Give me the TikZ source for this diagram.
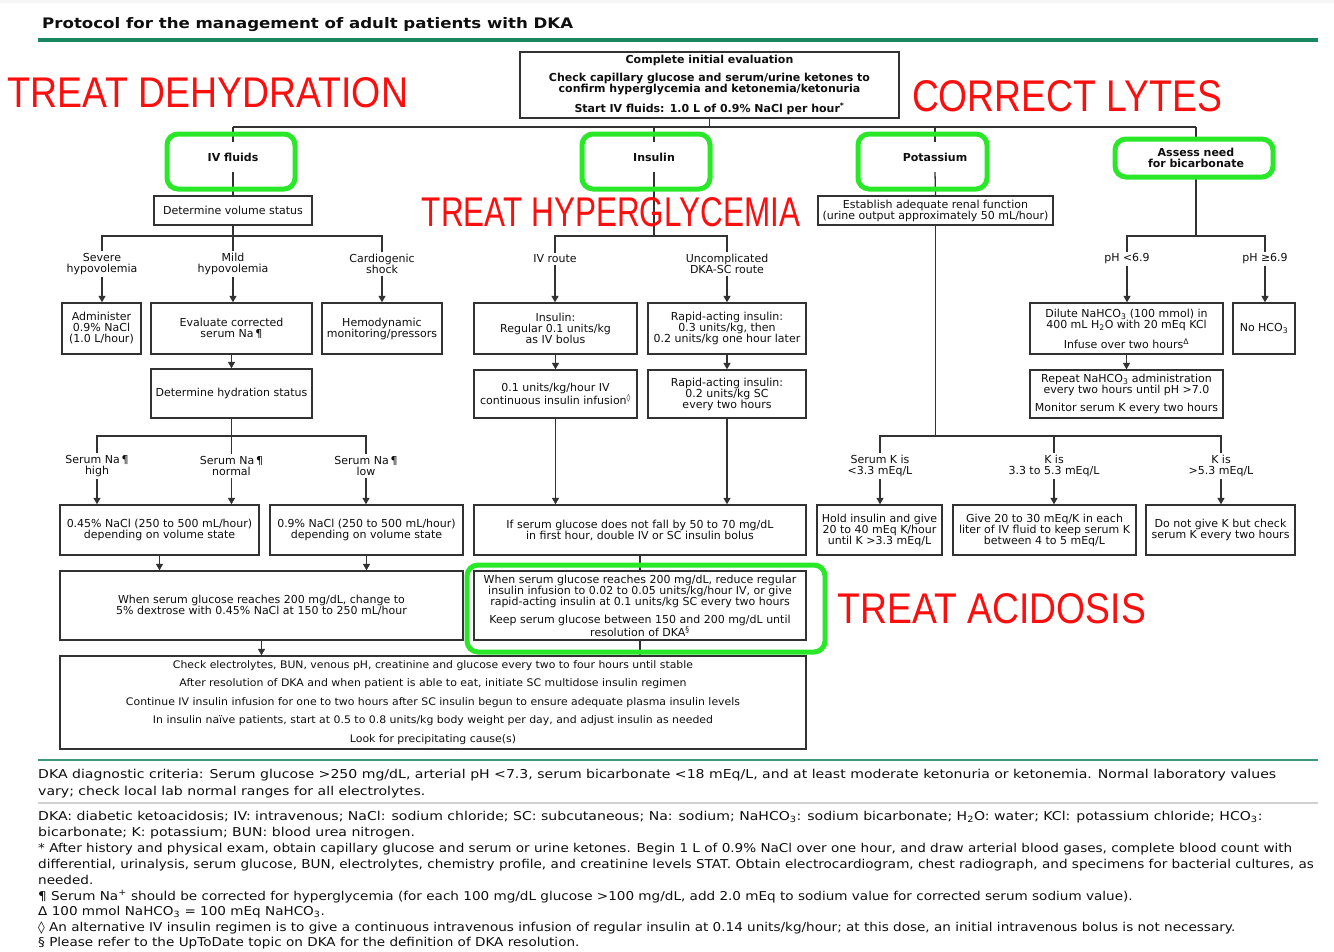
\documentclass[tikz,border=0pt]{standalone}
\usepackage{fontspec}
\usepackage{graphicx}
\setmainfont{DejaVu Sans}
\newfontfamily\arialf{Liberation Sans}
\usetikzlibrary{arrows.meta}
\definecolor{hlg}{RGB}{40,232,40}
\definecolor{rulec}{RGB}{25,135,95}
\definecolor{lc}{RGB}{50,50,50}
\definecolor{txt}{RGB}{15,15,15}
\definecolor{redt}{RGB}{250,15,15}
\newcommand{\bxf}{\fontsize{11}{11}\selectfont}
\newcommand{\fnfont}{\fontsize{12.2}{12.2}\selectfont}
\newlength{\fnw}
\newcommand{\mkbox}[7][]{\node[bx,#1,minimum width={#5-#3},minimum height={#6-#4}] (#2) at ({(#3+#5)/2},{(#4+#6)/2}) {#7};}
\newcommand{\fitw}[2]{\resizebox{#1pt}{\height}{#2}}
\newcommand{\ftA}{DKA diagnostic criteria: Serum glucose >250 mg/dL, arterial pH <7.3, serum bicarbonate <18 mEq/L, and at least moderate ketonuria or ketonemia. Normal laboratory values}
\newcommand{\ftE}{* After history and physical exam, obtain capillary glucose and serum or urine ketones. Begin 1 L of 0.9\% NaCl over one hour, and draw arterial blood gases, complete blood count with}
\begin{document}
\settowidth{\fnw}{\fnfont\ftA}\pgfmathsetmacro{\fsA}{1238/\fnw}%
\settowidth{\fnw}{\fnfont\ftE}\pgfmathsetmacro{\fsB}{1254/\fnw}%
\begin{tikzpicture}[x=1pt,y=-1pt,
  bx/.style={draw=lc, line width=1.3pt, align=center, inner sep=1pt, text=txt, font=\bxf},
  bxb/.style={font=\bfseries\bxf},
  lab/.style={align=center, inner sep=2pt, text=txt, font=\bxf},
  cat/.style={align=center, inner sep=0pt, text=txt, font=\bfseries\bxf},
  ln/.style={draw=lc, line width=1.3pt},
  arr/.style={ln, -{Triangle[width=7pt,length=6.5pt]}},
  hl/.style={draw=hlg, line width=5pt, rounded corners=11pt, inner sep=0pt},
  redl/.style={text=redt, inner sep=0pt},
  foot/.style={anchor=base west, inner sep=0pt, text=txt, font=\fnfont}]
\useasboundingbox (0,0) rectangle (1334,951);
\fill[white] (0,0) rectangle (1334,951);
\fill[green!5!gray!8] (0,0) rectangle (1334,3);

% title
\node[anchor=base west, inner sep=0pt, text=txt, font=\bfseries\fontsize{14.5}{14.5}\selectfont] (title) at (42,28) {\fitw{531}{Protocol for the management of adult patients with DKA}};
\draw[rulec, line width=4pt] (38,40) -- (1318,40);

% top box
\mkbox[bxb]{top}{520}{52}{899}{118}{Complete initial evaluation\\[7pt]Check capillary glucose and serum/urine ketones to\\confirm hyperglycemia and ketonemia/ketonuria\\[7pt]Start IV fluids: 1.0 L of 0.9\% NaCl per hour\textsuperscript{*}}

% categories
\node[cat, minimum height=30] (ivf) at (233,157) {IV fluids};
\node[cat, minimum height=30] (ins) at (654,157) {Insulin};
\node[cat, minimum height=30] (pot) at (935,157) {Potassium};
\node[cat, minimum height=38] (bic) at (1196,158) {Assess need\\for bicarbonate};

% IV fluids branch
\mkbox{vol}{154}{196}{312}{225}{Determine volume status}
\node[lab] (lsev) at (102,264) {Severe\\hypovolemia};
\node[lab] (lmild) at (233,264) {Mild\\hypovolemia};
\node[lab] (lcard) at (382,264) {Cardiogenic\\shock};
\mkbox{adm}{62}{303}{141}{354}{Administer\\0.9\% NaCl\\(1.0 L/hour)}
\mkbox{evna}{151}{303}{312}{354}{Evaluate corrected\\serum Na\,¶}
\mkbox{hemo}{322}{303}{442}{354}{Hemodynamic\\monitoring/pressors}
\mkbox{hyd}{151}{369}{312}{418}{Determine hydration status}
\node[lab] (lhi) at (97,466) {Serum Na\,¶\\high};
\node[lab] (lno) at (231.5,466) {Serum Na\,¶\\normal};
\node[lab] (llo) at (366,466) {Serum Na\,¶\\low};
\mkbox{half}{60}{505}{259}{555}{0.45\% NaCl (250 to 500 mL/hour)\\depending on volume state}
\mkbox{nine}{270}{505}{463}{555}{0.9\% NaCl (250 to 500 mL/hour)\\depending on volume state}
\mkbox{dext}{60}{571}{463}{640}{When serum glucose reaches 200 mg/dL, change to\\5\% dextrose with 0.45\% NaCl at 150 to 250 mL/hour}

% insulin branch
\node[lab] (liv) at (555,259) {IV route};
\node[lab] (lsc) at (727,264) {Uncomplicated\\DKA-SC route};
\mkbox{bolus}{474}{303}{637}{354}{Insulin:\\Regular 0.1 units/kg\\as IV bolus}
\mkbox{rapida}{648}{303}{806}{354}{Rapid-acting insulin:\\0.3 units/kg, then\\0.2 units/kg one hour later}
\mkbox{ivinf}{474}{370}{637}{418}{0.1 units/kg/hour IV\\continuous insulin infusion\textsuperscript{◊}}
\mkbox{rapidb}{648}{370}{806}{418}{Rapid-acting insulin:\\0.2 units/kg SC\\every two hours}
\mkbox{dbl}{474}{505}{806}{555}{If serum glucose does not fall by 50 to 70 mg/dL\\in first hour, double IV or SC insulin bolus}
\mkbox{reduce}{474}{571}{806}{640}{When serum glucose reaches 200 mg/dL, reduce regular\\insulin infusion to 0.02 to 0.05 units/kg/hour IV, or give\\rapid-acting insulin at 0.1 units/kg SC every two hours\\[7pt]Keep serum glucose between 150 and 200 mg/dL until\\resolution of DKA\textsuperscript{§}}

% potassium branch
\mkbox{renal}{818}{196}{1053}{225}{Establish adequate renal function\\(urine output approximately 50 mL/hour)}
\node[lab] (lka) at (880,466) {Serum K is\\<3.3 mEq/L};
\node[lab] (lkb) at (1054,466) {K is\\3.3 to 5.3 mEq/L};
\node[lab] (lkc) at (1221,466) {K is\\>5.3 mEq/L};
\mkbox{hold}{817}{505}{942}{555}{Hold insulin and give\\20 to 40 mEq K/hour\\until K >3.3 mEq/L}
\mkbox{give}{953}{505}{1136}{555}{Give 20 to 30 mEq/K in each\\liter of IV fluid to keep serum K\\between 4 to 5 mEq/L}
\mkbox{nok}{1146}{505}{1295}{555}{Do not give K but check\\serum K every two hours}

% bicarbonate branch
\node[lab] (lpa) at (1127,259) {pH <6.9};
\node[lab] (lpb) at (1265,259) {pH ≥6.9};
\mkbox{dil}{1030}{303}{1223}{354}{Dilute NaHCO\textsubscript{3} (100 mmol) in\\400 mL H\textsubscript{2}O with 20 mEq KCl\\[7pt]Infuse over two hours\textsuperscript{Δ}}
\mkbox{nohco}{1233}{303}{1295}{354}{No HCO\textsubscript{3}}
\mkbox{rep}{1030}{370}{1223}{418}{Repeat NaHCO\textsubscript{3} administration\\every two hours until pH >7.0\\[7pt]Monitor serum K every two hours}

% bottom box
\mkbox[font=\fontsize{10.4}{11}\selectfont]{bot}{60}{656}{806}{749}{%
\fitw{520}{Check electrolytes, BUN, venous pH, creatinine and glucose every two to four hours until stable}\\[7.5pt]
\fitw{507}{After resolution of DKA and when patient is able to eat, initiate SC multidose insulin regimen}\\[7.5pt]
\fitw{614}{Continue IV insulin infusion for one to two hours after SC insulin begun to ensure adequate plasma insulin levels}\\[7.5pt]
\fitw{560}{In insulin naïve patients, start at 0.5 to 0.8 units/kg body weight per day, and adjust insulin as needed}\\[7.5pt]
\fitw{166}{Look for precipitating cause(s)}}

% connectors: trunk
\coordinate (tL) at (233,127);
\coordinate (tR) at (1196,127);
\draw[ln] (top.south) -- (top.south |- tL);
\draw[ln] (tL) -- (tR);
\draw[ln] (tL) -- (ivf.north);
\draw[ln] (ins.north |- tL) -- (ins.north);
\draw[ln] (pot.north |- tL) -- (pot.north);
\draw[ln] (tR) -- (bic.north);

% IV fluids connectors
\draw[ln] (ivf.south) -- (vol.north);
\coordinate (jv) at (233,236);
\draw[ln] (vol.south) -- (jv);
\draw[ln] (lsev.north) |- (jv) -| (lcard.north);
\draw[ln] (jv) -- (lmild.north);
\draw[arr] (lsev.south) -- (lsev.south |- adm.north);
\draw[arr] (lmild.south) -- (lmild.south |- evna.north);
\draw[arr] (lcard.south) -- (lcard.south |- hemo.north);
\draw[arr] (evna.south) -- (evna.south |- hyd.north);
\coordinate (jh) at (231.5,436);
\draw[ln] (hyd.south) -- (jh);
\draw[ln] (lhi.north) |- (jh) -| (llo.north);
\draw[ln] (jh) -- (lno.north);
\draw[arr] (lhi.south) -- (lhi.south |- half.north);
\draw[arr] (lno.south) -- (lno.south |- half.north);
\draw[arr] (llo.south) -- (llo.south |- nine.north);
\draw[arr] (half.south) -- (half.south |- dext.north);
\draw[arr] (nine.south) -- (nine.south |- dext.north);
\draw[arr] (dext.south) -- (dext.south |- bot.north);

% insulin connectors
\coordinate (ji) at (654,236);
\draw[ln] (ins.south) -- (ji);
\draw[ln] (liv.north) |- (ji) -| (lsc.north);
\draw[arr] (liv.south) -- (liv.south |- bolus.north);
\draw[arr] (lsc.south) -- (lsc.south |- rapida.north);
\draw[arr] (bolus.south) -- (bolus.south |- ivinf.north);
\draw[arr] (rapida.south) -- (rapida.south |- rapidb.north);
\draw[arr] (ivinf.south) -- (ivinf.south |- dbl.north);
\draw[arr] (rapidb.south) -- (rapidb.south |- dbl.north);
\draw[ln] (dbl.south) -- (reduce.north);
\draw[ln] (reduce.south) -- (reduce.south |- bot.north);

% potassium connectors
\draw[ln] (pot.south) -- (renal.north);
\coordinate (jk) at (935.5,436);
\draw[ln] (renal.south) -- (jk);
\draw[ln] (lka.north) |- (jk) -| (lkc.north);
\draw[ln] (lkb.north |- jk) -- (lkb.north);
\draw[arr] (lka.south) -- (lka.south |- hold.north);
\draw[arr] (lkb.south) -- (lkb.south |- give.north);
\draw[arr] (lkc.south) -- (lkc.south |- nok.north);

% bicarbonate connectors
\coordinate (jb) at (1196,236);
\draw[ln] (bic.south) -- (jb);
\draw[ln] (lpa.north) |- (jb) -| (lpb.north);
\draw[arr] (lpa.south) -- (lpa.south |- dil.north);
\draw[arr] (lpb.south) -- (lpb.south |- nohco.north);
\draw[arr] (dil.south) -- (dil.south |- rep.north);

% green highlights
\node[hl, minimum width=128, minimum height=55] (hivf) at (231,161.5) {};
\node[hl, minimum width=128, minimum height=55] (hins) at (646,161.5) {};
\node[hl, minimum width=129, minimum height=55] (hpot) at (922.5,161.5) {};
\node[hl, minimum width=158, minimum height=38] (hbic) at (1194,158) {};
\node[hl, minimum width=358, minimum height=87] (hred) at (646,608.5) {};

% red labels
\node[redl] (tdh) at (208,93) {\resizebox{400pt}{30pt}{\arialf TREAT DEHYDRATION}};
\node[redl] (tly) at (1067,96) {\resizebox{310pt}{31pt}{\arialf CORRECT LYTES}};
\node[redl] (thy) at (611,212) {\resizebox{378pt}{29pt}{\arialf TREAT HYPERGLYCEMIA}};
\node[redl] (tac) at (992,609) {\resizebox{308pt}{30pt}{\arialf TREAT ACIDOSIS}};

% footnotes
\draw[rulec!85, line width=2pt] (38,760) -- (1318,760);
\draw[black!18, line width=1.5pt] (38,803) -- (1318,803);
\node[foot] (fa) at (38,778) {\scalebox{\fsA}[1]{\ftA}};
\node[foot] (fb) at (38,795) {\scalebox{\fsA}[1]{vary; check local lab normal ranges for all electrolytes.}};
\node[foot] (fc) at (38,820) {\scalebox{\fsA}[1]{DKA: diabetic ketoacidosis; IV: intravenous; NaCl: sodium chloride; SC: subcutaneous; Na: sodium; NaHCO\textsubscript{3}: sodium bicarbonate; H\textsubscript{2}O: water; KCl: potassium chloride; HCO\textsubscript{3}:}};
\node[foot] (fd) at (38,836) {\scalebox{\fsA}[1]{bicarbonate; K: potassium; BUN: blood urea nitrogen.}};
\node[foot] (fe) at (38,852) {\scalebox{\fsB}[1]{\ftE}};
\node[foot] (ff) at (38,868) {\scalebox{\fsB}[1]{differential, urinalysis, serum glucose, BUN, electrolytes, chemistry profile, and creatinine levels STAT. Obtain electrocardiogram, chest radiograph, and specimens for bacterial cultures, as}};
\node[foot] (fg) at (38,884) {\scalebox{\fsB}[1]{needed.}};
\node[foot] (fh) at (38,900) {\scalebox{\fsB}[1]{¶ Serum Na\textsuperscript{+} should be corrected for hyperglycemia (for each 100 mg/dL glucose >100 mg/dL, add 2.0 mEq to sodium value for corrected serum sodium value).}};
\node[foot] (fi) at (38,915) {\scalebox{\fsB}[1]{Δ 100 mmol NaHCO\textsubscript{3} = 100 mEq NaHCO\textsubscript{3}.}};
\node[foot] (fj) at (38,931) {\scalebox{\fsB}[1]{◊ An alternative IV insulin regimen is to give a continuous intravenous infusion of regular insulin at 0.14 units/kg/hour; at this dose, an initial intravenous bolus is not necessary.}};
\node[foot] (fk) at (38,946) {\scalebox{\fsB}[1]{§ Please refer to the UpToDate topic on DKA for the definition of DKA resolution.}};
\end{tikzpicture}
\end{document}
